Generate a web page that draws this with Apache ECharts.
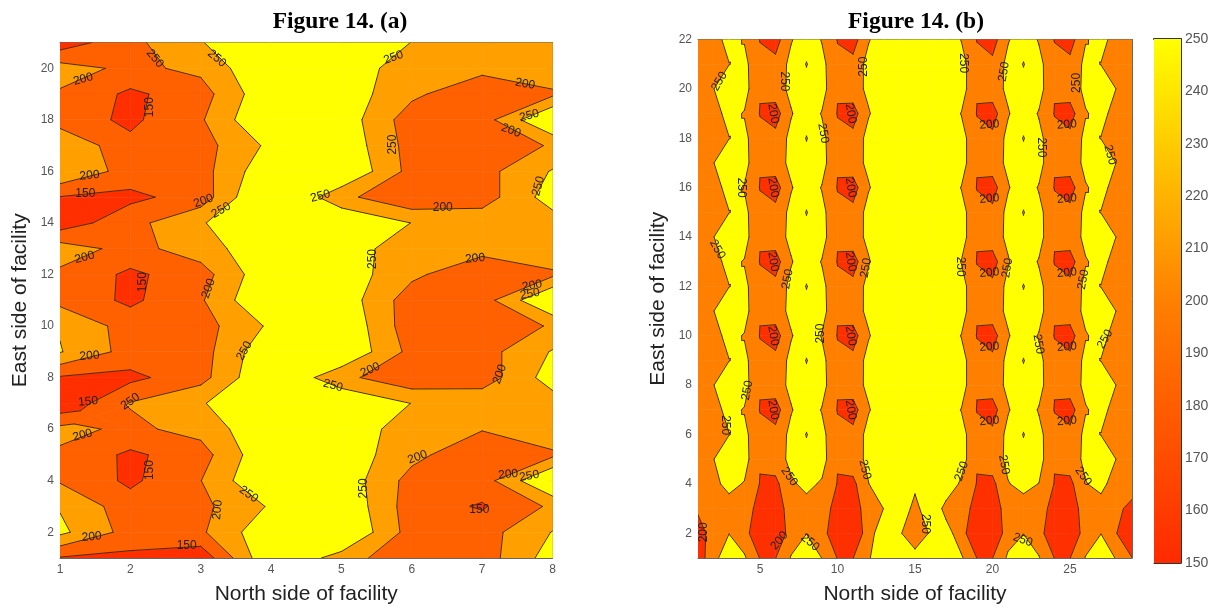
<!DOCTYPE html>
<html><head><meta charset="utf-8">
<style>html,body{margin:0;padding:0;background:#fff}#main{width:1219px;height:610px}#main canvas{filter:blur(0.45px)}</style>
<script src="https://cdn.jsdelivr.net/npm/echarts@6/dist/echarts.min.js"></script>
</head><body><div id="main"></div>
<script>
// Panel (a): rows listed from y=21 down to y=1, columns x=1..8
const xA = [1,2,3,4,5,6,7,8];
const yA = [21,20,19,18,17,16,15,14,13,12,11,10,9,8,7,6,5,4,3,2,1];
const zA = [
 [120,186,247,307,300,249,230,225],
 [222,188,212,302,295,212,215,243],
 [194,140,178,294,281,211,160,190],
 [176,140,194,310,282,172,176,311],
 [248,162,180,262,290,179,166,205],
 [248,178,180,291,304,182,182,254],
 [148,138,172,325,214,156,175,275],
 [121,183,244,320,300,249,233,225],
 [225,183,225,292,285,212,217,243],
 [190,140,178,294,281,211,160,190],
 [185,140,194,310,282,172,176,311],
 [246,178,179,259,297,169,166,205],
 [253,180,179,293,300,184,179,254],
 [145,137,182,307,214,161,171,275],
 [110,203,244,320,300,249,238,225],
 [214,190,216,299,290,220,203,240],
 [192,140,179,298,283,215,160,190],
 [195,140,199,310,285,181,176,311],
 [246,172,187,256,296,174,145,209],
 [262,180,192,292,309,178,178,252],
 [146,138,115,300,230,152,174,275]
];
const levelsA = [150,200,250];
const colorsA = ['#ff2f00','#ff6000','#ffa000','#ffff00'];
const labelsA = [
 [2.35,20.38,'250',-50],[3.23,20.38,'250',-40],[1.33,19.58,'200',15],[2.27,18.49,'150',90],
 [1.42,15.84,'200',5],[1.36,15.13,'150',0],[3.04,14.85,'200',20],[3.29,14.49,'250',30],
 [1.35,12.66,'200',15],[2.18,11.7,'150',90],[3.11,11.46,'200',70],[3.62,9.03,'250',60],
 [1.42,8.84,'200',5],[1.4,7.07,'150',5],[2.0,7.07,'250',35],[1.32,5.76,'200',15],
 [2.27,4.41,'150',90],[3.68,3.47,'250',-35],[3.24,2.87,'200',85],[1.45,1.82,'200',5],
 [2.8,1.47,'150',0],[5.74,20.42,'250',20],[7.61,19.39,'200',-10],[7.67,18.16,'250',15],
 [7.41,17.58,'200',-20],[5.73,17.04,'250',90],[4.7,15.04,'250',15],[6.44,14.59,'200',0],
 [7.8,15.43,'250',75],[5.45,12.6,'250',90],[6.9,12.62,'200',5],[7.71,11.57,'200',10],
 [7.68,11.24,'250',10],[5.41,8.3,'200',25],[4.88,7.69,'250',-15],[7.25,8.13,'200',70],
 [5.32,3.7,'250',90],[6.08,4.91,'200',20],[7.37,4.24,'200',5],[7.67,4.18,'250',10],[6.96,2.89,'150',0]
];

// Panel (b): rows listed from y=22 down to y=1, columns x=1..29
const xB = [1,2,3,4,5,6,7,8,9,10,11,12,13,14,15,16,17,18,19,20,21,22,23,24,25,26,27,28,29];
const yB = [22,21,20,19,18,17,16,15,14,13,12,11,10,9,8,7,6,5,4,3,2,1];
const zB = [
 [220,235,263,247,198,178,246,280,247,198,178,246,280,290,290,290,280,248,198,178,246,280,246,198,178,247,262,235,220],
 [215,235,249,262,214,215,264,302,264,210,215,267,290,295,295,295,290,267,215,212,264,302,264,214,214,262,249,235,215],
 [215,249,280,269,203,227,262,285,270,203,230,260,285,290,290,290,285,273,203,227,260,285,270,203,227,260,280,249,215],
 [220,235,263,247,198,178,246,280,247,198,178,246,280,290,290,290,280,248,198,178,246,280,246,198,178,247,262,235,220],
 [215,235,249,262,214,215,264,302,264,210,215,267,290,295,295,295,290,267,215,212,264,302,264,214,214,262,249,235,215],
 [215,249,280,269,203,227,262,285,270,203,230,260,285,290,290,290,285,273,203,227,260,285,270,203,227,260,280,249,215],
 [220,235,263,247,198,178,246,280,247,198,178,246,280,290,290,290,280,248,198,178,246,280,246,198,178,247,262,235,220],
 [215,235,249,262,214,215,264,302,264,210,215,267,290,295,295,295,290,267,215,212,264,302,264,214,214,262,249,235,215],
 [215,249,280,269,203,227,262,285,270,203,230,260,285,290,290,290,285,273,203,227,260,285,270,203,227,260,280,249,215],
 [220,235,263,247,198,178,246,280,247,198,178,246,280,290,290,290,280,248,198,178,246,280,246,198,178,247,262,235,220],
 [215,235,249,262,214,215,264,302,264,210,215,267,290,295,295,295,290,267,215,212,264,302,264,214,214,262,249,235,215],
 [215,249,280,269,203,227,262,285,270,203,230,260,285,290,290,290,285,273,203,227,260,285,270,203,227,260,280,249,215],
 [220,235,263,247,198,178,246,280,247,198,178,246,280,290,290,290,280,248,198,178,246,280,246,198,178,247,262,235,220],
 [215,235,249,262,214,215,264,302,264,210,215,267,290,295,295,295,290,267,215,212,264,302,264,214,214,262,249,235,215],
 [215,249,280,269,203,227,262,285,270,203,230,260,285,290,290,290,285,273,203,227,260,285,270,203,227,260,280,249,215],
 [220,235,263,247,198,178,246,280,247,198,178,246,280,290,290,290,280,248,198,178,246,280,246,198,178,247,262,235,220],
 [215,235,249,262,214,215,264,302,264,210,215,267,290,295,295,295,290,267,215,212,264,302,264,214,214,262,249,235,215],
 [215,249,280,269,203,227,262,285,270,203,230,260,285,290,290,290,285,273,203,227,260,285,270,203,227,260,280,249,215],
 [218,240,262,247,198,187,243,262,244,198,187,249,280,290,265,290,290,240,198,187,248,262,249,198,187,248,262,230,225],
 [205,225,232,225,181,170,225,232,225,180,175,225,251,300,228,300,231,225,180,172,223,232,225,179,175,221,232,212,185],
 [185,215,249,220,156,150,226,249,220,161,155,228,285,256,215,256,274,218,158,150,228,249,220,158,150,227,249,201,150],
 [173,233,285,256,198,199,253,285,249,198,199,246,280,285,270,285,285,256,199,199,258,285,253,199,199,252,285,246,201]
];
const levelsB = [200,250,300];
const colorsB = ['#ff3000','#ff8000','#ffff00','#ffff00'];
const labelsB = [
 [2.38,20.3,'250',60],[6.55,20.3,'250',-90],[11.7,20.9,'250',90],[9.08,18.2,'250',-80],
 [3.82,16,'250',-90],[2.25,13.5,'250',-60],[6.78,12.3,'250',80],[11.84,12.75,'250',80],
 [8.93,10.09,'250',90],[4.18,7.79,'250',80],[2.74,6.38,'250',-90],[6.89,4.3,'250',-55],
 [11.77,4.58,'250',-75],[1.39,2.04,'200',90],[6.25,1.7,'200',50],[8.23,1.63,'250',-40],
 [15.65,2.38,'250',-90],[18.12,21.04,'250',-90],[20.74,20.7,'250',80],[25.43,20.24,'250',90],
 [23.17,17.63,'250',-90],[27.58,17.33,'250',-75],[17.9,12.8,'250',-90],[20.96,12.75,'250',80],
 [25.86,12.28,'250',80],[22.96,9.66,'250',-80],[27.26,9.86,'250',60],[18.01,4.51,'250',70],
 [20.74,4.78,'250',-80],[25.86,4.31,'250',-55],[21.95,1.73,'250',-20],
 [5.85,19,'200',-80],[10.85,19,'200',-80],[5.85,16,'200',-80],[10.85,16,'200',-80],
 [5.85,13,'200',-80],[10.85,13,'200',-80],[5.85,10,'200',-80],[10.85,10,'200',-80],
 [5.85,7,'200',-80],[10.85,7,'200',-80],
 [19.8,18.55,'200',5],[24.8,18.55,'200',5],[19.8,15.55,'200',5],[24.8,15.55,'200',5],
 [19.8,12.55,'200',5],[24.8,12.55,'200',5],[19.8,9.55,'200',5],[24.8,9.55,'200',5],
 [19.8,6.55,'200',5],[24.8,6.55,'200',5]
];

// Colour bar
const barTicks = [150,250];
const barStops = [[0,'#ffff00'],[0.5,'#ff8000'],[1,'#ff2a00']];

const xTicksA = [1,2,3,4,5,6,7,8];
const yTicksA = [2,4,6,8,10,12,14,16,18,20];
const xTicksB = [5,10,15,20,25];
const yTicksB = [2,4,6,8,10,12,14,16,18,20,22];

const LINE = '#4a2a00', AXIS = '#666', TXT = '#555';

function clip(poly, lev, above){
  const out=[];
  for(let i=0;i<poly.length;i++){
    const a=poly[i], b=poly[(i+1)%poly.length];
    const ia=above? a[2]>=lev : a[2]<=lev, ib=above? b[2]>=lev : b[2]<=lev;
    if(ia) out.push(a);
    if(ia!==ib){
      const t=(lev-a[2])/(b[2]-a[2]);
      out.push([a[0]+t*(b[0]-a[0]),a[1]+t*(b[1]-a[1]),lev]);
    }
  }
  return out;
}
function pieces(xs,ys,z,i,j,levels){
  const q=[[xs[i],ys[j],z[j][i]],[xs[i+1],ys[j],z[j][i+1]],[xs[i+1],ys[j+1],z[j+1][i+1]],[xs[i],ys[j+1],z[j+1][i]]];
  const saddle=levels.some(l=>{
    const s=q.map(p=>p[2]>=l);
    return s[0]===s[2]&&s[1]===s[3]&&s[0]!==s[1];
  });
  if(!saddle) return [q];
  const c=[(q[0][0]+q[2][0])/2,(q[0][1]+q[2][1])/2,(q[0][2]+q[1][2]+q[2][2]+q[3][2])/4];
  return [0,1,2,3].map(k=>[q[k],q[(k+1)%4],c]);
}
function cells(xs,ys){
  const d=[];
  for(let j=0;j<ys.length-1;j++) for(let i=0;i<xs.length-1;i++) d.push([i,j]);
  return d;
}
function fillSeries(xs,ys,z,levels,colors,ax){
  return {type:'custom',coordinateSystem:'cartesian2d',xAxisIndex:ax,yAxisIndex:ax,z:2,silent:true,
    data:cells(xs,ys),encode:{x:[],y:[]},animation:false,clip:true,
    renderItem(p,api){
      const i=api.value(0), j=api.value(1), children=[];
      pieces(xs,ys,z,i,j,levels).forEach(pc=>{
        colors.forEach((col,b)=>{
          let poly=pc;
          if(b>0) poly=clip(poly,levels[b-1],true);
          if(poly.length>2&&b<levels.length) poly=clip(poly,levels[b],false);
          if(poly.length>2) children.push({type:'polygon',
            shape:{points:poly.map(v=>api.coord([v[0],v[1]]))},
            style:{fill:col,stroke:col,lineWidth:0.6}});
        });
      });
      return {type:'group',children};
    }};
}
function lineSeries(xs,ys,z,levels,ax){
  return {type:'custom',coordinateSystem:'cartesian2d',xAxisIndex:ax,yAxisIndex:ax,z:3,silent:true,
    data:cells(xs,ys),encode:{x:[],y:[]},animation:false,clip:true,
    renderItem(p,api){
      const i=api.value(0), j=api.value(1), children=[];
      pieces(xs,ys,z,i,j,levels).forEach(pc=>{
        levels.forEach(l=>{
          const pts=[];
          for(let k=0;k<pc.length;k++){
            const a=pc[k], b=pc[(k+1)%pc.length];
            if((a[2]>=l)!==(b[2]>=l)){
              const t=(l-a[2])/(b[2]-a[2]);
              pts.push(api.coord([a[0]+t*(b[0]-a[0]),a[1]+t*(b[1]-a[1])]));
            }
          }
          if(pts.length===2) children.push({type:'line',
            shape:{x1:pts[0][0],y1:pts[0][1],x2:pts[1][0],y2:pts[1][1]},
            style:{stroke:LINE,lineWidth:1,lineCap:'round'}});
        });
      });
      return {type:'group',children};
    }};
}
function labelSeries(labels,ax){
  return {type:'custom',coordinateSystem:'cartesian2d',xAxisIndex:ax,yAxisIndex:ax,z:4,silent:true,
    data:labels.map(l=>[l[0],l[1]]),animation:false,clip:false,
    renderItem(p,api){
      const c=api.coord([api.value(0),api.value(1)]), l=labels[p.dataIndex];
      return {type:'text',x:c[0],y:c[1],rotation:l[3]*Math.PI/180,
        style:{text:l[2],fontSize:12,fontFamily:'Liberation Sans',fill:'#222',align:'center',verticalAlign:'middle'}};
    }};
}
const gridsDef=[
  {left:60,top:42.5,width:492.5,height:518},
  {left:698,top:39.5,width:434,height:522.5},
  {left:1154,top:39,width:27,height:524}
];
function xAx(g,min,max,ticks,name,gap,top){
  return {type:'value',gridIndex:g,min,max,position:top?'top':'bottom',
    splitLine:{show:false},
    axisLine:{onZero:false,lineStyle:{color:AXIS,width:1}},
    axisTick:{inside:true,length:4,customValues:ticks,lineStyle:{color:AXIS}},
    axisLabel:{show:!top,customValues:ticks,color:TXT,fontSize:12,fontFamily:'Liberation Sans',margin:6},
    name:top?'':name,nameLocation:'middle',nameGap:gap,
    nameTextStyle:{color:'#222',fontSize:21,fontFamily:'Liberation Sans'}};
}
function yAx(g,min,max,ticks,name,gap,right){
  return {type:'value',gridIndex:g,min,max,position:right?'right':'left',
    splitLine:{show:false},
    axisLine:{onZero:false,lineStyle:{color:AXIS,width:1}},
    axisTick:{inside:true,length:4,customValues:ticks,lineStyle:{color:AXIS}},
    axisLabel:{show:!right,customValues:ticks,color:TXT,fontSize:12,fontFamily:'Liberation Sans',margin:6},
    name:right?'':name,nameLocation:'middle',nameGap:gap,
    nameTextStyle:{color:'#222',fontSize:21,fontFamily:'Liberation Sans'}};
}
const chart=echarts.init(document.getElementById('main'),null,{renderer:'canvas'});
chart.setOption({
  animation:false,
  backgroundColor:'#fff',
  title:[
    {text:'Figure 14. (a)',left:335,top:5,textAlign:'center',textStyle:{fontFamily:'Liberation Serif',fontWeight:'bold',fontSize:23.5,color:'#000'}},
    {text:'Figure 14. (b)',left:911,top:5,textAlign:'center',textStyle:{fontFamily:'Liberation Serif',fontWeight:'bold',fontSize:23.5,color:'#000'}}
  ],
  grid:gridsDef,
  xAxis:[
    xAx(0,1,8,xTicksA,'North side of facility',26,false),
    xAx(1,1,29,xTicksB,'North side of facility',26,false),
    {type:'value',gridIndex:2,min:0,max:1,position:'bottom',axisLabel:{show:false},axisTick:{show:false},splitLine:{show:false},axisLine:{onZero:false,lineStyle:{color:'#333'}}},
    xAx(0,1,8,xTicksA,'',0,true),
    xAx(1,1,29,xTicksB,'',0,true),
    {type:'value',gridIndex:2,min:0,max:1,position:'top',axisLabel:{show:false},axisTick:{show:false},splitLine:{show:false},axisLine:{onZero:false,lineStyle:{color:'#333',width:2}}}
  ],
  yAxis:[
    yAx(0,1,21,yTicksA,'East side of facility',29,false),
    yAx(1,1,22,yTicksB,'East side of facility',29,false),
    {type:'value',gridIndex:2,min:150,max:250,interval:10,position:'right',splitLine:{show:false},
     axisLine:{onZero:false,lineStyle:{color:'#333'}},axisTick:{inside:true,length:4,lineStyle:{color:'#333'}},
     axisLabel:{color:TXT,fontSize:14,fontFamily:'Liberation Sans',margin:4}},
    yAx(0,1,21,yTicksA,'',0,true),
    yAx(1,1,22,yTicksB,'',0,true),
    {type:'value',gridIndex:2,min:150,max:250,interval:10,position:'left',splitLine:{show:false},
     axisLine:{onZero:false,lineStyle:{color:'#333'}},axisTick:{inside:true,length:4,lineStyle:{color:'#333'}},axisLabel:{show:false}}
  ],
  series:[
    fillSeries(xA,yA,zA,levelsA,colorsA,0),
    lineSeries(xA,yA,zA,levelsA,0),
    labelSeries(labelsA,0),
    fillSeries(xB,yB,zB,levelsB,colorsB,1),
    lineSeries(xB,yB,zB,levelsB,1),
    labelSeries(labelsB,1),
    {type:'custom',coordinateSystem:'cartesian2d',xAxisIndex:2,yAxisIndex:2,z:2,silent:true,animation:false,
     data:[[0,barTicks[0]]],
     renderItem(p,api){
       const a=api.coord([0,barTicks[1]]), b=api.coord([1,barTicks[0]]);
       return {type:'rect',shape:{x:a[0],y:a[1],width:b[0]-a[0],height:b[1]-a[1]},
         style:{fill:new echarts.graphic.LinearGradient(0,0,0,1,barStops.map(s=>({offset:s[0],color:s[1]})))}};
     }}
  ]
});
</script></body></html>
